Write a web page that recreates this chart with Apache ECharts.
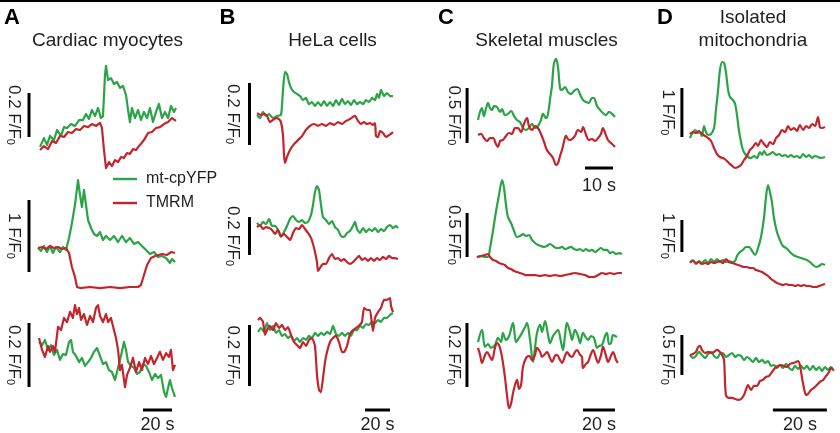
<!DOCTYPE html>
<html><head><meta charset="utf-8">
<script src="https://cdn.jsdelivr.net/npm/echarts@6/dist/echarts.min.js"></script>
<style>html,body{margin:0;padding:0;background:#fff}#c{width:840px;height:433px}</style>
</head><body><div id="c"></div>
<script>
// ---------------- DATA: [time (s), F/F0] ----------------
const a1Green=[[1.4,1.005],[4.1,1.045],[6.2,1.014],[8.3,1.055],[11.0,1.036],[13.1,1.082],[15.9,1.055],[17.9,1.095],[20.0,1.091],[22.8,1.109],[25.5,1.1],[28.3,1.127],[31.0,1.127],[33.1,1.155],[35.2,1.132],[37.2,1.173],[39.3,1.145],[41.4,1.182],[43.4,1.136],[44.8,1.145],[46.2,1.332],[46.9,1.373],[48.3,1.309],[50.3,1.318],[52.4,1.291],[54.5,1.3],[56.6,1.273],[58.6,1.282],[60.7,1.241],[62.1,1.173],[63.4,1.118],[64.8,1.182],[66.9,1.136],[69.0,1.173],[71.0,1.127],[73.1,1.164],[75.2,1.136],[77.2,1.182],[79.3,1.118],[81.4,1.164],[83.4,1.2],[85.5,1.136],[87.6,1.164],[89.7,1.136],[91.7,1.191],[93.8,1.164],[95.2,1.182]];
const a1Red=[[1.4,0.991],[4.1,1.009],[6.9,0.995],[9.7,1.032],[12.4,1.023],[15.2,1.055],[17.9,1.05],[20.7,1.073],[23.4,1.068],[26.2,1.086],[29.0,1.082],[31.7,1.1],[34.5,1.095],[37.2,1.109],[40.0,1.1],[42.8,1.114],[44.1,1.091],[45.5,0.991],[46.9,0.909],[49.0,0.936],[51.0,0.918],[53.1,0.945],[55.2,0.936],[57.2,0.959],[59.3,0.955],[61.4,0.977],[63.4,0.973],[65.5,0.995],[67.6,0.991],[70.3,1.014],[73.1,1.036],[75.9,1.068],[78.6,1.073],[81.4,1.091],[84.1,1.095],[86.9,1.109],[89.7,1.118],[92.4,1.136],[95.2,1.123]];
const a2Green=[[0,1.0],[2.1,0.958],[4.1,1.028],[6.2,0.944],[8.3,1.028],[10.3,0.931],[12.4,1.014],[15.2,0.944],[17.2,1.014],[19.3,0.972],[21.4,1.139],[23.4,1.347],[25.5,1.597],[27.6,1.944],[29.0,1.736],[30.3,1.569],[31.7,1.806],[33.1,1.597],[34.5,1.389],[36.6,1.278],[38.6,1.194],[40.7,1.167],[42.8,1.222],[44.8,1.111],[46.9,1.167],[49.7,1.111],[52.4,1.167],[55.2,1.083],[57.9,1.167],[60.7,1.083],[63.4,1.139],[66.2,1.056],[69.0,1.083],[71.7,1.028],[74.5,0.972],[77.2,0.917],[80.0,0.944],[82.8,0.875],[85.5,0.889],[88.3,0.861],[91.0,0.792],[92.4,0.847],[94.5,0.806]];
const a2Red=[[0,1.0],[2.8,1.014],[5.5,0.986],[8.3,1.028],[11.0,1.0],[13.8,1.014],[16.6,0.986],[19.3,1.0],[21.4,0.931],[23.4,0.736],[25.5,0.597],[26.9,0.458],[29.0,0.444],[35.9,0.458],[42.8,0.444],[49.7,0.458],[56.6,0.444],[63.4,0.458],[69.0,0.458],[71.0,0.486],[73.1,0.625],[75.2,0.764],[77.9,0.861],[80.7,0.889],[85.5,0.917],[89.0,0.903],[91.7,0.944],[94.5,0.931]];
const a3Red=[[0.7,1.006],[2.8,0.969],[4.8,0.947],[6.9,0.981],[8.3,0.963],[10.3,0.981],[11.7,0.963],[13.8,1.041],[15.9,1.031],[17.9,1.069],[20.0,1.056],[22.1,1.088],[24.1,1.069],[25.5,1.109],[26.9,1.081],[28.3,1.1],[29.7,1.063],[31.7,1.081],[33.8,1.047],[35.9,1.075],[37.9,1.056],[40.0,1.1],[41.4,1.109],[42.8,1.075],[44.8,1.056],[46.9,1.081],[48.3,1.056],[50.3,1.069],[51.7,1.044],[53.8,1.006],[55.2,0.969],[56.6,0.906],[57.9,0.922],[60.0,0.853],[61.4,0.891],[63.4,0.913],[65.5,0.944],[67.6,0.9],[69.7,0.931],[71.7,0.906],[73.8,0.944],[75.9,0.925],[77.9,0.95],[80.0,0.925],[82.1,0.944],[84.1,0.963],[86.2,0.938],[88.3,0.959],[90.3,0.947],[91.7,0.969],[93.1,0.906],[94.5,0.922]];
const a3Green=[[0.7,0.994],[2.8,0.984],[4.8,1.0],[6.9,0.969],[9.0,0.984],[11.0,0.953],[13.1,0.969],[15.2,0.938],[17.2,0.956],[19.3,0.953],[21.4,0.994],[22.8,1.0],[24.1,0.963],[26.2,0.95],[28.3,0.931],[30.3,0.944],[32.4,0.919],[34.5,0.931],[36.6,0.944],[38.6,0.963],[40.7,0.975],[42.8,0.95],[44.8,0.925],[46.9,0.931],[48.9,0.906],[51.0,0.9],[53.1,0.875],[55.2,0.913],[57.2,0.95],[59.3,0.994],[60.7,0.969],[62.1,0.931],[64.1,0.919],[66.2,0.913],[68.3,0.894],[70.3,0.9],[72.4,0.925],[74.5,0.919],[76.6,0.9],[78.6,0.875],[80.7,0.894],[82.8,0.881],[84.8,0.891],[86.9,0.838],[88.3,0.822],[89.7,0.85],[91.0,0.875],[92.4,0.85],[94.5,0.822]];
const b1Green=[[0,1.0],[2.4,0.99],[4.8,1.01],[7.2,0.997],[9.6,1.003],[12.8,0.99],[16.0,0.997],[19.2,1.0],[20.8,1.081],[22.4,1.139],[24.0,1.132],[25.6,1.106],[27.2,1.087],[29.6,1.074],[32.0,1.068],[34.4,1.061],[36.8,1.048],[39.2,1.055],[41.6,1.035],[44.0,1.042],[46.4,1.029],[48.8,1.042],[51.2,1.029],[53.6,1.045],[56.0,1.029],[58.4,1.042],[60.8,1.029],[63.2,1.048],[65.6,1.032],[68.0,1.052],[70.4,1.035],[72.8,1.045],[75.2,1.032],[77.6,1.048],[80.0,1.035],[82.4,1.042],[84.8,1.035],[87.2,1.048],[89.6,1.042],[92.0,1.055],[94.4,1.048],[96.0,1.068],[97.6,1.055],[99.2,1.081],[101.6,1.061],[104.0,1.071],[106.4,1.061],[108.8,1.061]];
const b1Red=[[0,1.006],[3.2,1.0],[5.6,1.003],[8.0,0.997],[10.4,0.977],[12.8,0.984],[15.2,0.99],[17.6,0.987],[19.2,0.977],[20.8,0.935],[21.6,0.871],[22.4,0.845],[24.0,0.865],[26.4,0.887],[29.6,0.906],[32.8,0.919],[36.0,0.932],[39.2,0.952],[42.4,0.965],[45.6,0.971],[48.8,0.965],[52.0,0.971],[55.2,0.965],[58.4,0.974],[61.6,0.968],[64.8,0.977],[68.0,0.971],[71.2,0.981],[74.4,0.987],[76.8,0.994],[78.4,0.997],[80.8,0.981],[83.2,0.971],[85.6,0.977],[88.0,0.971],[90.4,0.974],[92.8,0.968],[94.4,0.974],[95.2,0.932],[96.8,0.929],[98.4,0.948],[100.8,0.942],[103.2,0.929],[105.6,0.935],[108.8,0.945]];
const b2Green=[[0,1.011],[2.4,0.995],[4.8,1.016],[7.2,1.005],[9.6,1.032],[12.0,0.995],[14.4,0.995],[16.8,0.974],[19.2,0.937],[21.6,0.963],[24.0,0.995],[26.4,1.032],[28.8,1.047],[31.2,1.026],[33.6,1.016],[36.0,1.026],[38.4,1.011],[40.8,1.016],[43.2,1.053],[44.8,1.105],[46.4,1.174],[48.0,1.205],[49.6,1.184],[51.2,1.105],[52.8,1.042],[55.2,1.026],[57.6,1.005],[60.0,1.021],[62.4,0.989],[64.8,0.974],[67.2,0.942],[69.6,0.937],[72.0,0.958],[74.4,0.968],[76.8,0.995],[78.4,1.016],[80.0,0.979],[82.4,0.958],[84.8,0.984],[87.2,0.963],[89.6,0.979],[92.0,0.968],[94.4,0.984],[96.8,0.963],[99.2,0.979],[101.6,0.968],[104.0,0.989],[106.4,1.0],[108.8,0.984],[111.2,0.995],[112.8,0.984]];
const b2Red=[[0,0.989],[2.4,1.0],[4.8,0.979],[7.2,0.989],[9.6,0.984],[12.0,0.974],[14.4,0.953],[16.8,0.974],[19.2,0.942],[21.6,0.953],[24.0,0.937],[26.4,0.921],[28.8,0.958],[31.2,0.984],[33.6,0.979],[36.0,1.0],[38.4,0.979],[40.8,0.958],[43.2,0.932],[44.8,0.9],[46.4,0.858],[48.0,0.805],[48.8,0.758],[50.4,0.774],[52.8,0.795],[55.2,0.795],[57.6,0.826],[60.0,0.847],[62.4,0.821],[64.8,0.826],[67.2,0.811],[69.6,0.821],[72.0,0.805],[74.4,0.795],[76.8,0.805],[79.2,0.821],[81.6,0.837],[84.0,0.816],[86.4,0.826],[88.8,0.811],[91.2,0.826],[93.6,0.811],[96.0,0.826],[98.4,0.816],[100.8,0.832],[103.2,0.821],[105.6,0.837],[108.0,0.826],[110.4,0.826],[112.8,0.821]];
const b3Red=[[0.8,1.049],[2.4,1.056],[4.8,1.043],[6.4,1.0],[8.0,1.016],[10.4,1.03],[12.8,1.016],[15.2,1.039],[17.6,1.023],[20.0,1.033],[22.4,1.016],[24.8,1.026],[27.2,1.0],[29.6,0.977],[32.0,0.967],[34.4,0.957],[36.8,0.977],[39.2,0.964],[41.6,0.984],[44.0,0.99],[46.4,0.964],[48.0,0.869],[49.6,0.82],[51.2,0.813],[52.8,0.859],[54.4,0.911],[56.0,0.944],[58.4,0.977],[60.8,0.99],[63.2,0.997],[65.6,0.977],[68.0,0.944],[69.6,0.944],[72.0,0.964],[74.4,1.003],[76.8,1.016],[79.2,1.023],[81.6,1.03],[84.0,1.043],[85.6,1.089],[88.0,1.082],[90.4,1.082],[92.0,1.033],[92.8,1.013],[94.4,1.056],[96.8,1.075],[99.2,1.089],[101.6,1.115],[104.0,1.115],[106.4,1.121],[107.2,1.095],[108.8,1.075]];
const b3Green=[[0.8,1.01],[3.2,1.023],[5.6,1.01],[8.0,1.039],[10.4,1.016],[12.8,1.03],[15.2,1.007],[17.6,1.016],[20.0,0.997],[22.4,1.003],[24.8,0.99],[27.2,0.997],[29.6,0.98],[32.0,0.99],[34.4,0.977],[36.8,0.99],[39.2,0.984],[41.6,0.997],[44.0,0.99],[46.4,1.007],[48.8,0.997],[51.2,1.007],[53.6,1.0],[56.0,1.01],[58.4,1.003],[60.8,1.03],[63.2,1.003],[65.6,0.997],[68.0,1.007],[70.4,0.997],[72.8,1.007],[75.2,0.997],[77.6,1.016],[80.0,1.016],[82.4,1.03],[84.8,1.023],[87.2,1.036],[89.6,1.033],[92.0,1.043],[94.4,1.039],[96.8,1.049],[99.2,1.043],[101.6,1.056],[104.0,1.056],[106.4,1.066],[108.8,1.072]];
const c1Green=[[0,1.0],[0.7,1.073],[1.4,1.109],[2.1,1.036],[2.9,1.109],[3.6,1.155],[4.3,1.109],[5.0,1.091],[5.7,1.127],[6.8,1.118],[7.9,1.073],[8.6,1.1],[9.6,1.045],[10.7,1.055],[11.8,1.082],[12.9,1.036],[13.9,1.0],[15.0,0.982],[16.1,0.927],[17.1,0.909],[18.2,0.927],[19.3,0.964],[20.4,0.927],[21.4,0.945],[22.5,1.0],[23.2,1.055],[24.3,1.018],[25.0,1.055],[25.7,1.182],[26.4,1.309],[27.1,1.509],[27.9,1.555],[28.6,1.473],[29.3,1.291],[30.0,1.273],[31.1,1.3],[32.1,1.255],[33.2,1.236],[34.3,1.264],[35.4,1.282],[36.4,1.236],[37.5,1.182],[38.6,1.164],[39.6,1.155],[40.7,1.2],[41.4,1.2],[42.5,1.127],[43.6,1.091],[44.6,1.064],[45.7,1.045],[46.8,1.073],[47.9,1.055],[48.9,1.027]];
const c1Red=[[0,0.864],[1.1,0.873],[2.1,0.836],[3.2,0.809],[4.3,0.836],[5.4,0.836],[6.4,0.782],[7.1,0.755],[7.9,0.809],[8.9,0.818],[10.0,0.855],[11.1,0.882],[12.1,0.873],[13.2,0.927],[14.3,0.927],[15.4,0.891],[16.4,0.964],[17.5,1.018],[18.2,0.945],[19.3,0.909],[20.4,0.945],[21.4,0.927],[22.5,0.873],[23.6,0.8],[24.6,0.727],[25.7,0.691],[26.8,0.655],[27.9,0.591],[28.6,0.609],[29.3,0.673],[30.0,0.727],[30.7,0.8],[31.4,0.855],[32.5,0.818],[33.6,0.827],[34.6,0.855],[35.7,0.909],[36.8,0.891],[37.5,0.936],[38.6,0.864],[39.6,0.818],[40.7,0.827],[41.8,0.809],[42.9,0.836],[43.9,0.873],[44.6,0.927],[45.4,0.882],[46.4,0.818],[47.5,0.791],[48.6,0.764],[48.9,0.755]];
const c2Green=[[-0.4,1.0],[1.1,1.011],[2.5,1.0],[3.6,1.0],[4.3,1.102],[5.4,1.307],[6.4,1.511],[7.5,1.705],[8.6,1.875],[9.3,1.784],[10.0,1.591],[10.7,1.455],[11.8,1.386],[12.9,1.295],[13.9,1.227],[15.0,1.239],[16.1,1.261],[17.1,1.239],[18.2,1.25],[19.3,1.193],[20.4,1.159],[21.4,1.136],[22.5,1.125],[23.6,1.114],[24.6,1.125],[25.7,1.148],[26.8,1.125],[27.9,1.102],[28.9,1.102],[30.0,1.114],[31.1,1.091],[32.1,1.102],[33.2,1.114],[34.3,1.091],[35.4,1.08],[36.4,1.091],[37.5,1.068],[38.6,1.091],[39.6,1.068],[40.7,1.08],[41.8,1.057],[42.9,1.08],[43.9,1.102],[45.0,1.08],[46.1,1.08],[47.1,1.045],[48.2,1.057],[49.3,1.034],[50.4,1.045],[51.4,1.034]];
const c2Red=[[-0.4,1.0],[1.1,1.011],[2.5,1.023],[3.6,1.034],[4.3,1.0],[5.4,0.966],[6.4,0.955],[7.5,0.932],[8.6,0.92],[9.6,0.909],[10.7,0.875],[11.8,0.864],[12.9,0.841],[13.9,0.83],[15.0,0.818],[16.1,0.807],[17.1,0.795],[18.6,0.795],[20.4,0.795],[22.1,0.784],[23.9,0.795],[25.7,0.784],[27.5,0.795],[29.3,0.784],[31.1,0.795],[32.9,0.807],[34.6,0.818],[36.4,0.807],[38.2,0.795],[40.0,0.773],[41.4,0.773],[42.9,0.795],[44.3,0.818],[45.7,0.807],[47.1,0.818],[48.6,0.807],[50.0,0.818],[51.4,0.818]];
const c3Green=[[0,1.009],[2.5,1.047],[4.4,0.994],[6.3,1.003],[8.1,0.991],[10.6,1.0],[12.5,1.022],[14.4,1.009],[15.6,1.038],[17.5,1.016],[19.4,1.028],[21.9,1.069],[23.8,1.009],[25.6,1.022],[27.5,1.038],[29.4,1.056],[30.6,1.069],[32.5,1.016],[34.4,0.947],[35.6,0.991],[36.9,1.038],[38.8,1.063],[40.0,1.041],[41.9,1.075],[43.8,1.031],[45.0,1.006],[46.9,1.028],[48.8,1.041],[50.0,1.047],[51.9,1.009],[53.1,0.984],[54.4,1.031],[55.6,1.069],[57.5,1.041],[58.8,1.016],[60.6,1.047],[62.5,1.028],[63.8,1.006],[65.6,1.038],[67.5,1.022],[68.8,1.016],[70.6,1.028],[72.5,1.022],[74.4,0.991],[75.6,0.997],[77.5,1.0],[79.4,1.028],[80.6,1.038],[81.9,1.003],[83.1,1.006],[84.4,1.031],[86.9,1.025]];
const c3Red=[[0,0.991],[1.3,0.969],[2.5,0.944],[4.4,0.969],[5.6,0.978],[7.5,0.963],[8.8,0.953],[10.6,0.991],[11.9,1.006],[13.1,1.0],[14.4,0.978],[15.6,0.944],[16.9,0.897],[18.1,0.844],[19.4,0.803],[20.6,0.816],[21.9,0.85],[23.1,0.875],[24.4,0.891],[25.6,0.863],[26.9,0.875],[28.1,0.931],[30.0,0.959],[31.9,0.966],[33.8,0.953],[35.6,0.969],[36.9,0.991],[38.8,0.978],[40.0,0.963],[41.9,0.972],[43.1,0.978],[45.0,0.959],[46.3,0.947],[48.1,0.966],[49.4,0.969],[51.3,0.953],[52.5,0.944],[54.4,0.966],[55.6,0.978],[57.5,0.966],[58.8,0.963],[60.6,0.978],[61.9,0.984],[63.8,0.969],[65.0,0.963],[65.6,0.928],[67.5,0.941],[68.8,0.947],[70.6,0.972],[71.9,0.984],[73.8,0.959],[75.0,0.944],[76.9,0.969],[78.1,0.994],[80.0,0.966],[81.3,0.947],[83.1,0.966],[84.4,0.978],[86.3,0.953],[87.5,0.944]];
const d1Green=[[0,0.898],[0.7,0.98],[1.9,1.061],[3.0,1.0],[3.7,1.02],[4.4,0.939],[5.2,1.143],[5.9,1.02],[6.7,0.959],[7.8,0.98],[8.9,1.102],[9.6,1.469],[10.4,1.878],[11.1,2.286],[11.9,2.449],[12.6,2.429],[13.3,2.245],[14.1,1.878],[14.8,1.735],[15.9,1.673],[16.7,1.592],[17.4,1.367],[18.1,1.061],[18.9,0.816],[19.6,0.653],[20.4,0.571],[21.5,0.51],[22.6,0.49],[23.7,0.531],[24.8,0.49],[25.9,0.612],[26.7,0.551],[27.4,0.633],[28.5,0.551],[29.6,0.571],[30.7,0.612],[31.9,0.551],[33.0,0.571],[34.1,0.531],[35.2,0.551],[36.3,0.51],[37.4,0.551],[38.5,0.51],[39.6,0.531],[40.7,0.49],[41.9,0.571],[43.0,0.51],[44.1,0.551],[45.2,0.49],[46.3,0.531],[47.4,0.51],[48.5,0.49],[50.0,0.51]];
const d1Red=[[0,0.98],[1.1,1.02],[2.2,1.0],[3.3,1.041],[4.4,0.98],[5.6,0.939],[6.7,0.898],[7.8,0.837],[8.9,0.694],[10.0,0.571],[11.1,0.51],[12.2,0.49],[13.3,0.449],[14.4,0.388],[15.6,0.327],[16.7,0.286],[17.8,0.306],[18.9,0.347],[20.0,0.449],[21.1,0.531],[22.2,0.653],[23.3,0.714],[24.4,0.796],[25.2,0.735],[26.3,0.857],[27.4,0.776],[28.5,0.714],[29.6,0.816],[30.7,0.776],[31.9,0.898],[33.0,0.959],[34.1,1.061],[35.2,1.02],[36.3,1.143],[37.4,1.061],[38.5,1.102],[39.6,1.041],[40.7,1.163],[41.9,1.061],[43.0,1.143],[44.1,1.102],[45.2,1.184],[46.3,1.143],[47.4,1.327],[48.1,1.122],[48.9,1.102],[50.0,1.122]];
const d2Green=[[0,0.969],[1.1,1.063],[2.2,0.938],[3.3,1.031],[4.4,0.969],[5.6,1.063],[6.7,0.969],[7.8,1.094],[8.9,1.0],[10.0,1.094],[11.1,1.0],[12.2,1.063],[13.3,1.0],[14.4,1.031],[15.6,1.0],[16.7,1.031],[17.4,1.188],[18.5,1.313],[19.6,1.375],[20.7,1.469],[21.9,1.469],[23.0,1.344],[24.1,1.219],[25.2,1.438],[26.3,1.781],[27.4,2.375],[28.1,3.0],[28.9,3.406],[29.6,3.188],[30.4,2.844],[31.1,2.375],[32.2,1.938],[33.3,1.688],[34.4,1.5],[35.6,1.438],[36.7,1.344],[37.8,1.25],[38.9,1.188],[40.0,1.156],[41.1,1.125],[42.2,1.094],[43.3,1.063],[44.4,1.0],[45.6,0.906],[46.7,0.844],[47.8,0.875],[48.9,0.938],[50.0,0.906]];
const d2Red=[[0,1.0],[1.1,1.031],[2.2,0.969],[3.3,1.0],[4.4,0.938],[5.6,0.969],[6.7,0.938],[7.8,1.0],[8.9,0.969],[10.0,1.0],[11.1,1.031],[12.2,0.969],[13.3,1.094],[14.4,1.0],[15.6,0.969],[16.7,0.938],[17.8,0.906],[18.9,0.875],[20.0,0.844],[21.1,0.844],[22.2,0.813],[23.3,0.813],[24.4,0.75],[25.6,0.719],[26.7,0.688],[27.8,0.625],[28.9,0.563],[30.0,0.469],[31.1,0.406],[32.2,0.344],[33.3,0.313],[34.4,0.281],[35.6,0.313],[36.7,0.281],[37.8,0.281],[38.9,0.25],[40.0,0.281],[41.1,0.25],[42.2,0.281],[43.3,0.25],[44.4,0.25],[45.6,0.219],[46.7,0.219],[47.8,0.25],[48.9,0.281],[50.0,0.313]];
const d3Green=[[0,1.0],[1.1,0.963],[2.2,0.988],[3.3,1.038],[4.4,1.0],[5.6,0.963],[6.7,1.013],[7.8,1.038],[8.9,0.988],[10.0,0.963],[11.1,1.013],[12.2,1.025],[13.3,0.975],[14.4,1.0],[15.6,1.025],[16.7,0.975],[17.8,1.0],[18.9,0.988],[20.0,0.938],[21.1,0.975],[22.2,0.95],[23.3,0.913],[24.4,0.963],[25.6,0.913],[26.7,0.938],[27.8,0.9],[28.9,0.925],[30.0,0.863],[31.1,0.875],[32.2,0.838],[33.3,0.875],[34.4,0.838],[35.6,0.888],[36.7,0.838],[37.8,0.813],[38.9,0.863],[40.0,0.825],[41.1,0.863],[42.2,0.825],[43.3,0.863],[44.4,0.813],[45.6,0.863],[46.7,0.813],[47.8,0.85],[48.9,0.8],[50.0,0.85],[51.1,0.813],[52.2,0.85],[53.3,0.8]];
const d3Red=[[0,1.0],[1.1,1.013],[2.2,1.038],[3.0,1.1],[3.7,1.113],[4.4,1.063],[5.6,1.025],[6.7,1.038],[7.8,1.025],[8.9,1.038],[10.0,1.063],[11.1,1.038],[11.9,1.0],[12.6,0.938],[13.3,0.5],[14.4,0.463],[15.6,0.463],[16.7,0.45],[17.8,0.438],[18.9,0.45],[20.0,0.5],[20.7,0.563],[21.5,0.625],[22.6,0.563],[23.7,0.613],[24.8,0.613],[25.9,0.675],[27.0,0.688],[28.1,0.725],[29.3,0.738],[30.4,0.788],[31.5,0.838],[32.6,0.863],[33.7,0.875],[34.8,0.863],[35.9,0.85],[37.0,0.888],[38.1,0.9],[39.3,0.913],[40.0,0.925],[40.7,0.875],[41.5,0.713],[42.2,0.588],[43.0,0.5],[43.7,0.513],[44.8,0.563],[45.9,0.588],[47.0,0.625],[48.1,0.663],[49.3,0.688],[50.4,0.738],[51.5,0.788],[52.2,0.838],[53.0,0.813]];

// scale bar values (F/F0) and time bars (s), one per panel A1..D3
const scaleValues=[0.2,1,0.2, 0.2,0.2,0.2, 0.5,0.5,0.2, 1,1,0.5];
const timeBars=[null,null,20, null,null,20, 10,null,20, null,null,20];
const columnTitles=['Cardiac myocytes','HeLa cells','Skeletal muscles','Isolated\nmitochondria'];
const panelLetters=['A','B','C','D'];
const seriesNames=['mt-cpYFP','TMRM'];
const traces=[[a1Green,a1Red],[a2Green,a2Red],[a3Green,a3Red],[b1Green,b1Red],[b2Green,b2Red],[b3Green,b3Red],[c1Green,c1Red],[c2Green,c2Red],[c3Green,c3Red],[d1Green,d1Red],[d2Green,d2Red],[d3Green,d3Red]];

// ---------------- LAYOUT ----------------
// x0: pixel of t=0, pps: px per s, base: pixel of F/F0=1, ppu: px per F/F0 unit
const L=[
 {x0:38,pps:1.45,base:148,ppu:220,tmin:-10,tmax:100,vmin:0.85,vmax:1.4,barT:-6.2,barV:1.05,off:15.5,sm:0},
 {x0:38,pps:1.45,base:248,ppu:72,tmin:-10,tmax:100,vmin:0.4,vmax:2.1,barT:-6.2,barV:0.667,off:15.5,sm:0},
 {x0:38,pps:1.45,base:340,ppu:320,tmin:-10,tmax:100,vmin:0.75,vmax:1.15,barT:-6.2,barV:0.853,timeT:72.4,timeV:0.781,off:15.5,sm:0,tlab:15},
 {x0:257,pps:1.25,base:115,ppu:310,tmin:-12,tmax:115,vmin:0.82,vmax:1.18,barT:-6,barV:0.903,off:17,sm:0.2},
 {x0:257,pps:1.25,base:225,ppu:190,tmin:-12,tmax:115,vmin:0.68,vmax:1.24,barT:-6,barV:0.842,off:17,sm:0.2},
 {x0:257,pps:1.25,base:335,ppu:305,tmin:-12,tmax:115,vmin:0.72,vmax:1.15,barT:-6,barV:0.833,timeT:86.4,timeV:0.754,off:17,sm:0.15,tlab:15},
 {x0:478,pps:2.8,base:120,ppu:110,tmin:-5,tmax:50,vmin:0.5,vmax:1.6,barT:-3.9,barV:0.791,timeT:38.2,timeV:0.564,off:13.5,sm:0.35,tlab:18},
 {x0:478,pps:2.8,base:257,ppu:88,tmin:-5,tmax:52,vmin:0.65,vmax:1.95,barT:-3.9,barV:1.0,off:13.5,sm:0.3},
 {x0:478,pps:1.6,base:345,ppu:320,tmin:-10,tmax:90,vmin:0.76,vmax:1.16,barT:-6.9,barV:0.869,timeT:65.6,timeV:0.797,off:13.5,sm:0.35,tlab:15},
 {x0:690,pps:2.7,base:133,ppu:49,tmin:-5,tmax:55,vmin:0.1,vmax:2.6,barT:-3,barV:0.918,off:14.5,sm:0.3},
 {x0:690,pps:2.7,base:262,ppu:32,tmin:-5,tmax:55,vmin:0,vmax:3.75,barT:-3,barV:1.313,off:14.5,sm:0.3},
 {x0:690,pps:2.7,base:355,ppu:80,tmin:-5,tmax:55,vmin:0.15,vmax:1.7,barT:-3,barV:0.75,timeT:30.7,timeV:0.3125,off:14.5,sm:0.3,tlab:15}
];
const GREEN='#2aa446', RED='#c3252d', INK='#1e1e1e';
const FONT='"Liberation Sans", Arial, Helvetica, sans-serif';

const grids=[],xAxes=[],yAxes=[],series=[];
L.forEach((p,i)=>{
  grids.push({left:p.x0+p.tmin*p.pps, width:(p.tmax-p.tmin)*p.pps, top:p.base-(p.vmax-1)*p.ppu, height:(p.vmax-p.vmin)*p.ppu});
  xAxes.push({type:'value',gridIndex:i,min:p.tmin,max:p.tmax,show:false,splitLine:{show:false}});
  yAxes.push({type:'value',gridIndex:i,min:p.vmin,max:p.vmax,show:false,splitLine:{show:false}});
  const [g,r]=traces[i];
  [[g,GREEN,seriesNames[0]],[r,RED,seriesNames[1]]].forEach(([d,c,n])=>{
    series.push({type:'line',name:n,xAxisIndex:i,yAxisIndex:i,data:d,symbol:'none',showSymbol:false,clip:false,silent:true,
      smooth:p.sm||false,lineStyle:{color:c,width:2.2,join:'round'},itemStyle:{color:c},animation:false});
  });
  series.push({type:'line',name:'scalebar',xAxisIndex:i,yAxisIndex:i,symbol:'none',clip:false,silent:true,animation:false,
    data:[[p.barT,p.barV],[p.barT,p.barV+scaleValues[i]]],lineStyle:{color:'#000',width:3,cap:'butt'}});
  if(timeBars[i]){
    series.push({type:'line',name:'timebar',xAxisIndex:i,yAxisIndex:i,symbol:'none',clip:false,silent:true,animation:false,
      data:[[p.timeT,p.timeV],[p.timeT+timeBars[i],p.timeV]],lineStyle:{color:'#000',width:3,cap:'butt'}});
  }
});

const chart=echarts.init(document.getElementById('c'),null,{renderer:'canvas'});
chart.setOption({
  animation:false,backgroundColor:'#fff',
  grid:grids,xAxis:xAxes,yAxis:yAxes,series:series,
  legend:{data:seriesNames,orient:'vertical',left:113,top:170,padding:0,icon:'rect',itemWidth:24,itemHeight:2.4,itemGap:6,selectedMode:false,
    textStyle:{fontSize:16,lineHeight:18,color:INK,fontFamily:FONT,padding:[0,0,0,4]}}
});

// annotations
const gfx=[{type:'rect',shape:{x:0,y:0,width:840,height:2},style:{fill:'#000'}}];
const titleX=[107.5,332.5,546.5,753];
const letterX=[12,227.5,446,665];
panelLetters.forEach((t,i)=>{
  gfx.push({type:'text',x:letterX[i],y:18,style:{text:t,font:'bold 22px '+FONT,fill:'#000',align:'center',verticalAlign:'middle'}});
});
columnTitles.forEach((t,i)=>{
  const lines=t.split('\n');
  if(lines.length===1){
    gfx.push({type:'text',x:titleX[i],y:41,style:{text:t,font:'19px '+FONT,fill:INK,align:'center',verticalAlign:'middle'}});
  } else {
    gfx.push({type:'text',x:titleX[i],y:17.5,style:{text:lines[0],font:'19px '+FONT,fill:INK,align:'center',verticalAlign:'middle'}});
    gfx.push({type:'text',x:titleX[i],y:41,style:{text:lines[1],font:'19px '+FONT,fill:INK,align:'center',verticalAlign:'middle'}});
  }
});
L.forEach((p,i)=>{
  const a=chart.convertToPixel({gridIndex:i},[p.barT,p.barV]);
  const b=chart.convertToPixel({gridIndex:i},[p.barT,p.barV+scaleValues[i]]);
  gfx.push({type:'text',x:a[0]-p.off,y:(a[1]+b[1])/2,rotation:-Math.PI/2,
    style:{text:'{a|'+scaleValues[i]+' F/F}{s|0}',fill:INK,align:'center',verticalAlign:'middle',
      rich:{a:{fontSize:17,fontFamily:FONT,fill:INK,lineHeight:17},s:{fontSize:11,fontFamily:FONT,fill:INK,lineHeight:6,verticalAlign:'bottom'}}}});
  if(timeBars[i]){
    const c=chart.convertToPixel({gridIndex:i},[p.timeT+timeBars[i]/2,p.timeV]);
    gfx.push({type:'text',x:c[0],y:c[1]+p.tlab,style:{text:timeBars[i]+' s',font:'18px '+FONT,fill:INK,align:'center',verticalAlign:'middle'}});
  }
});
chart.setOption({graphic:gfx});
</script></body></html>
